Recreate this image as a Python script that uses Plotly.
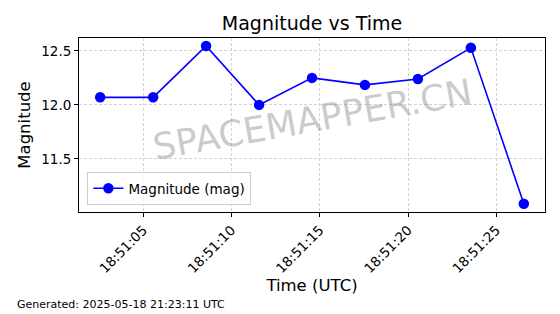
import plotly.graph_objects as go

times = ["2025-05-18 18:51:02.56", "2025-05-18 18:51:05.56", "2025-05-18 18:51:08.56",
         "2025-05-18 18:51:11.56", "2025-05-18 18:51:14.56", "2025-05-18 18:51:17.56",
         "2025-05-18 18:51:20.56", "2025-05-18 18:51:23.56", "2025-05-18 18:51:26.56"]
magnitudes = [12.07, 12.07, 12.545, 12.00, 12.25, 12.185, 12.24, 12.528, 11.085]
y_ticks = [11.5, 12.0, 12.5]

font = "DejaVu Sans"
fig = go.Figure()
fig.add_trace(go.Scatter(
    x=times, y=magnitudes, mode="lines+markers", name="Magnitude (mag)",
    line=dict(color="#0000ff", width=1.6),
    marker=dict(color="#0000ff", size=10.5),
))

grid = dict(showgrid=True, gridcolor="#d3d3d3", griddash="3px,2px", gridwidth=0.8)

fig.update_layout(
    width=560, height=314,
    margin=dict(l=79, r=15, t=38, b=102),
    paper_bgcolor="white", plot_bgcolor="white",
    font=dict(family=font, color="black", size=13),
    title=dict(text="Magnitude vs Time", x=0.5, xanchor="center", y=0.925, yanchor="middle",
               xref="paper", font=dict(size=19, family=font)),
    showlegend=True,
    legend=dict(x=0.018, y=0.04, xanchor="left", yanchor="bottom",
                bordercolor="#cccccc", borderwidth=1, bgcolor="rgba(255,255,255,0.8)",
                font=dict(size=13.5, family=font), itemwidth=30),
    xaxis=dict(
        type="date", range=["2025-05-18 18:51:01.36", "2025-05-18 18:51:27.76"],
        tick0="2025-05-18 18:51:05", dtick=5000, tickformat="%H:%M:%S",
        tickangle=-45, ticks="outside", ticklen=4, tickcolor="black",
        showline=True, linecolor="black", linewidth=1, mirror=True,
        zeroline=False, tickfont=dict(size=13.5, family=font),
        title=dict(text="Time (UTC)", font=dict(size=16.5, family=font), standoff=4),
        **grid,
    ),
    yaxis=dict(
        range=[11.009, 12.619], tickvals=y_ticks, ticktext=["11.5", "12.0", "12.5"],
        ticks="outside", ticklen=4, tickcolor="black",
        showline=True, linecolor="black", linewidth=1, mirror=True,
        zeroline=False, tickfont=dict(size=13.5, family=font),
        title=dict(text="Magnitude", font=dict(size=16.5, family=font), standoff=6),
        **grid,
    ),
)

fig.add_annotation(text="SPACEMAPPER.CN", xref="paper", yref="paper", x=0.5, y=0.53,
                   showarrow=False, textangle=-10,
                   font=dict(size=36, family=font, color="rgba(128,128,128,0.42)"))
fig.add_annotation(text="Generated: 2025-05-18 21:23:11 UTC", xref="paper", yref="paper",
                   x=-0.138, xanchor="left", y=-0.534, yanchor="middle", showarrow=False,
                   font=dict(size=11, family=font, color="black"))

fig.write_html("out.html")
